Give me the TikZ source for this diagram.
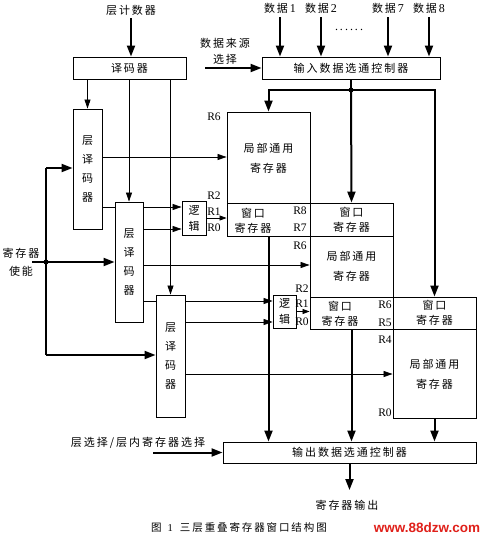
\documentclass[tikz,border=0pt]{standalone}
\usepackage{fontspec}
\setmainfont{Liberation Serif}
\newfontfamily\cjk[LetterSpace=18]{Noto Sans CJK SC}
\newfontfamily\cjkv{Noto Sans CJK SC}
\newfontfamily\wfont{Liberation Sans}
\usetikzlibrary{arrows.meta}
\definecolor{wred}{HTML}{E0201A}
\begin{document}
\begin{tikzpicture}[x=1pt,y=-1pt,
  box/.style={draw, line width=0.9pt, inner sep=0pt, anchor=center},
  zh/.style={font=\cjk\fontsize{11}{12}\selectfont, inner sep=0pt, align=center},
  zhw/.style={font=\cjk\fontsize{11}{15}\selectfont, inner sep=0pt, align=center},
  zhl/.style={font=\cjk\fontsize{11}{20}\selectfont, inner sep=0pt, align=center},
  zhv/.style={font=\cjkv\fontsize{11}{19}\selectfont, inner sep=0pt, align=center},
  zhg/.style={font=\cjkv\fontsize{11}{16}\selectfont, inner sep=0pt, align=center},
  dl/.style={font=\fontsize{12}{12}\selectfont, inner sep=0pt},
  rl/.style={font=\fontsize{11.5}{12}\selectfont, inner sep=0pt},
  tline/.style={line width=0.8pt},
  tarr/.style={line width=0.8pt, -{Triangle[length=9pt,width=6pt]}},
  sarr/.style={line width=0.8pt, -{Triangle[length=7pt,width=5pt]}},
  bline/.style={line width=2pt},
  barr/.style={line width=2pt, -{Triangle[length=11pt,width=8pt]}},
  regw/.style={box, minimum width=83pt, minimum height=33pt},
  ldbox/.style={box, minimum width=29pt, minimum height=121pt, zhv},
  gbox/.style={box, minimum width=24pt, minimum height=34pt, zhg}
]
\fill[white] (0,0) rectangle (488,540);
\useasboundingbox (0,0) rectangle (488,540);

% top row
\node[zh] (cnt) at (131,10) {层计数器};
\node[box, minimum width=113pt, minimum height=22pt, zh] (dec) at (129.5,68) {译码器};
\node[zhw, font=\cjk\fontsize{11}{16}\selectfont] (src) at (225,51) {数据来源\\选择};
\node[box, minimum width=178pt, minimum height=22pt, zh] (in) at (351,68) {输入数据选通控制器};
\node[dl] (d1) at (280,8) {{\cjk\fontsize{11}{12}\selectfont 数据}\,1};
\node[dl] (d2) at (321,8) {{\cjk\fontsize{11}{12}\selectfont 数据}\,2};
\node[dl] (d7) at (388,8) {{\cjk\fontsize{11}{12}\selectfont 数据}\,7};
\node[dl] (d8) at (429,8) {{\cjk\fontsize{11}{12}\selectfont 数据}\,8};
\node[dl] (dots) at (349,30) {.\,.\,.\,.\,.\,.};

% registers
\node[box, minimum width=83pt, minimum height=91pt] (L1) at (268.5,157.5) {};
\node[zhl] (L1t) at (268.5,158) {局部通用\\寄存器};
\node[regw] (W1) at (268.5,219.5) {};
\node[zhw] (W1t) at (253,220.5) {窗口\\寄存器};
\node[regw, zhw] (W2) at (351.5,219.5) {窗口\\寄存器};
\node[box, minimum width=83pt, minimum height=61pt] (L2) at (351.5,266.5) {};
\node[zhl] (L2t) at (351.5,266.5) {局部通用\\寄存器};
\node[box, minimum width=83pt, minimum height=32pt] (W3) at (351.5,313) {};
\node[zhw] (W3t) at (340,314) {窗口\\寄存器};
\node[box, minimum width=83pt, minimum height=32pt, zhw] (W4) at (434.5,313) {窗口\\寄存器};
\node[box, minimum width=83pt, minimum height=89pt] (L3) at (434.5,373.5) {};
\node[zhl] (L3t) at (434.5,374) {局部通用\\寄存器};

% layer decoders and logic
\node[ldbox, minimum height=120pt] (LD1) at (87.5,169) {层\\译\\码\\器};
\node[ldbox, minimum width=28pt, minimum height=120pt] (LD2) at (129,262) {层\\译\\码\\器};
\node[ldbox, minimum height=122pt] (LD3) at (170.5,356) {层\\译\\码\\器};
\node[gbox] (G1) at (194,218) {逻\\辑};
\node[gbox, minimum width=23pt, minimum height=33pt] (G2) at (284.5,311.5) {逻\\辑};

% output
\node[box, minimum width=253pt, minimum height=21pt, zh] (out) at (349.5,452.5) {输出数据选通控制器};
\node[zh] (sel) at (138,443) {层选择/层内寄存器选择};
\node[zh] (res) at (347,505) {寄存器输出};
\node[font=\fontsize{10.5}{12}\selectfont, inner sep=0pt] (cap) at (239,528) {{\cjkv\fontsize{10.5}{12}\selectfont 图}\hspace{6pt}1\hspace{7pt}{\cjk\fontsize{10.5}{12}\selectfont 三层重叠寄存器窗口结构图}};
\node[font=\wfont\bfseries\fontsize{13.5}{14}\selectfont, text=wred, inner sep=0pt] (www) at (427,528) {www.88dzw.com};
\node[zh, font=\cjk\fontsize{11}{18}\selectfont] (enl) at (21,262) {寄存器\\使能};

% R labels
\node[rl] (ra) at (214,117) {R6};
\node[rl] (rb) at (214,196) {R2};
\node[rl] (rc) at (214,212) {R1};
\node[rl] (rd) at (214,228) {R0};
\node[rl] (re) at (300,211) {R8};
\node[rl] (rf) at (300,228) {R7};
\node[rl] (rg) at (300,246) {R6};
\node[rl] (rh) at (302,289) {R2};
\node[rl] (ri) at (302,304) {R1};
\node[rl] (rj) at (302,322) {R0};
\node[rl] (rk) at (385,305) {R6};
\node[rl] (rm) at (385,323) {R5};
\node[rl] (rn) at (385,340) {R4};
\node[rl] (ro) at (385,413) {R0};

% top arrows
\draw[barr] ([yshift=-3pt]cnt.south) -- (cnt.south |- dec.north);
\foreach \d in {d1,d2,d7,d8} \draw[barr] ([yshift=-4pt]\d.south) -- (\d.south |- in.north);
\coordinate (srcS) at (205,68);
\draw[barr] (srcS) -- (in.west);

% input distribution
\coordinate (j) at (351,90);
\draw[bline] (in.south) -- (j);
\draw[barr] (j) -| (L1.north);
\draw[barr] (j) -| (W4.north);
\draw[barr] (j) -- (W2.north);
\fill (j) circle (2.5pt);

% decoder lines
\draw[tarr] (dec.south -| LD1.north) -- (LD1.north);
\draw[tarr] (dec.south -| LD2.north) -- (LD2.north);
\draw[tarr] (dec.south -| LD3.north) -- (LD3.north);

% enable
\coordinate (en) at (46,262);
\coordinate (enT) at (46,168);
\coordinate (enB) at (46,355);
\coordinate (enL) at (32,262);
\draw[bline] (enT) -- (enB);
\draw[bline] (enL) -- (en);
\draw[barr] (enT) -- (LD1.west |- enT);
\draw[barr] (en) -- (LD2.west |- en);
\draw[barr] (enB) -- (LD3.west |- enB);
\fill (en) circle (2.5pt);

% layer decoder outputs
\draw[tarr] (LD1.east |- 0,157) -- (L1.west |- 0,157);
\draw[tline] (LD1.east |- 0,207) -- (LD2.west |- 0,207);
\draw[tarr] (LD2.east |- 0,207) -- (G1.west |- 0,207);
\draw[tarr] (LD2.east |- 0,229) -- (G1.west |- 0,229);
\draw[tarr] (LD2.east |- 0,265) -- (L2.west |- 0,265);
\draw[tline] (LD2.east |- 0,301) -- (LD3.west |- 0,301);
\draw[tarr] (LD3.east |- 0,301) -- (G2.west |- 0,301);
\draw[tarr] (LD3.east |- 0,322) -- (G2.west |- 0,322);
\draw[tarr] (LD3.east |- 0,374) -- (L3.west |- 0,374);

% logic outputs
\draw[sarr] (G1.east) -- (G1.east -| W1.west);
\draw[sarr] (G2.east) -- (G2.east -| W3.west);

% outputs
\draw[barr] (W1.south) -- (W1.south |- out.north);
\draw[barr] (W3.south) -- (W3.south |- out.north);
\draw[barr] (L3.south) -- (L3.south |- out.north);
\coordinate (selS) at (153,452.5);
\draw[barr] (selS) -- (out.west);
\coordinate (outE) at (349.5,490);
\draw[barr] (out.south) -- (outE);
\end{tikzpicture}
\end{document}
